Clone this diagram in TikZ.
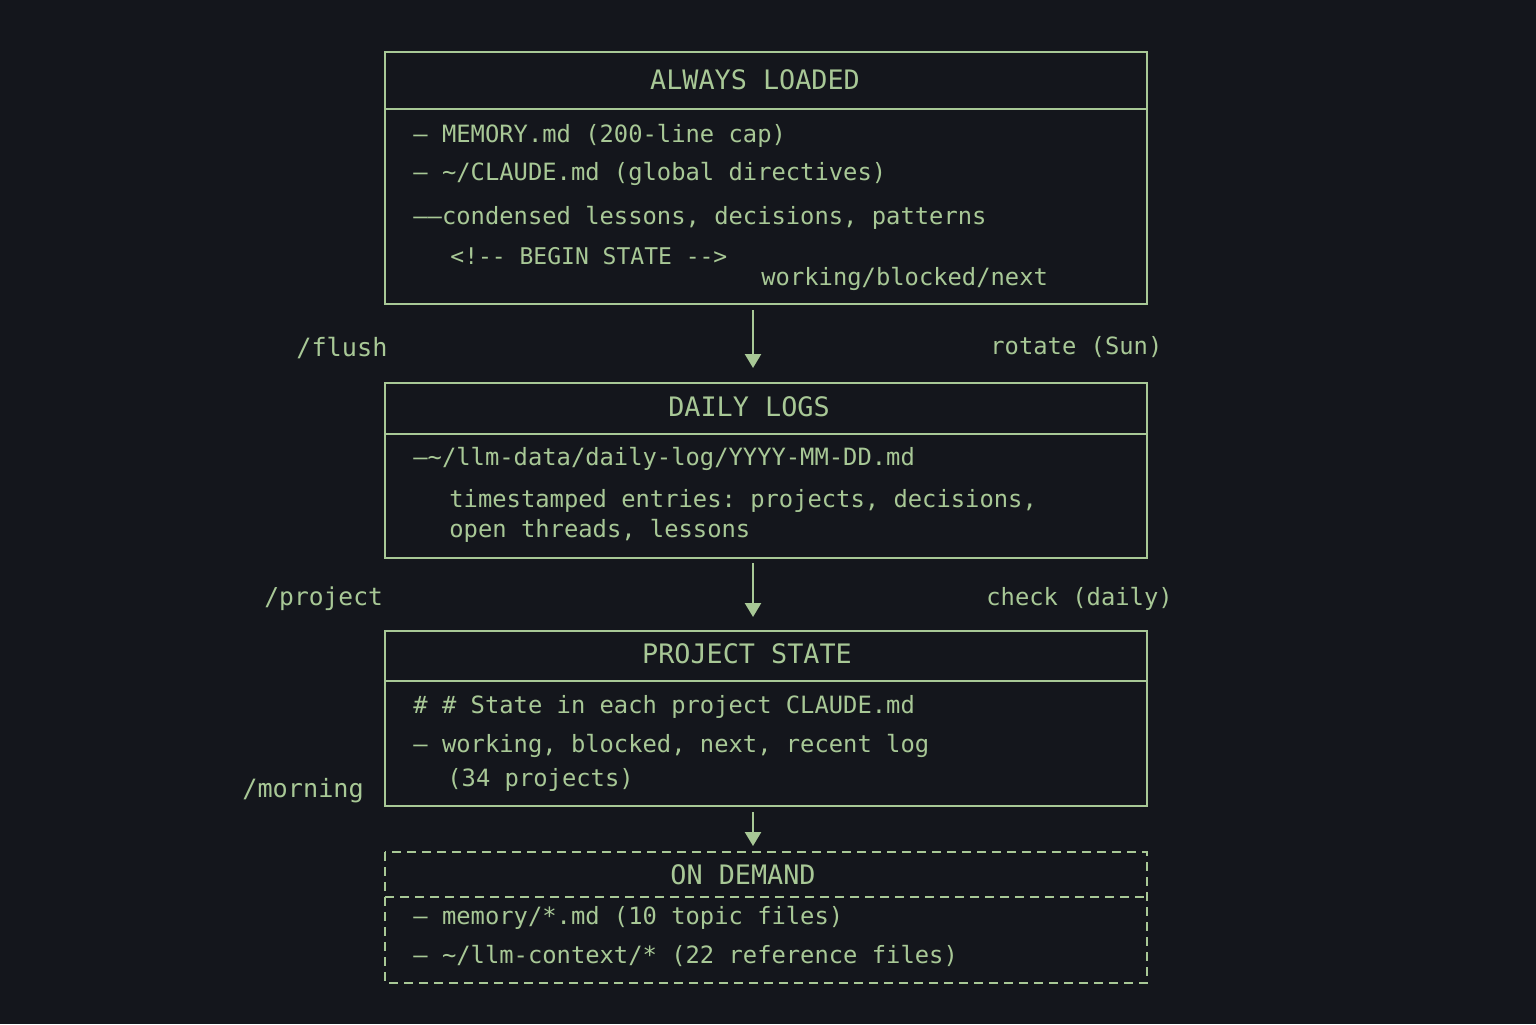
\documentclass[tikz,border=0pt]{standalone}
\usepackage{fontspec}
\setmonofont{DejaVu Sans Mono}
\usetikzlibrary{arrows.meta}
\definecolor{bg}{HTML}{14161C}
\definecolor{gr}{HTML}{A8C896}
\begin{document}
\begin{tikzpicture}[x=0.5pt,y=-0.5pt,
  box/.style={draw=gr,line width=1.2pt},
  dsh/.style={box,dash pattern=on 4.5pt off 3pt},
  txt/.style={anchor=west,text=gr,font=\ttfamily\fontsize{11.9}{15}\selectfont,inner sep=0},
  small/.style={txt,font=\ttfamily\fontsize{11.5}{14}\selectfont},
  hdr/.style={text=gr,font=\ttfamily\fontsize{13.4}{15}\selectfont,inner sep=0},
  arr/.style={draw=gr,line width=1.2pt,-{Triangle[length=7pt,width=8pt]}}]
\fill[bg] (0,0) rectangle (1536,1024);
% boxes
\draw[box] (385,52) rectangle (1147,304); \draw[box] (385,109) -- (1147,109);
\draw[box] (385,383) rectangle (1147,558); \draw[box] (385,434) -- (1147,434);
\draw[box] (385,631) rectangle (1147,806); \draw[box] (385,681) -- (1147,681);
\draw[dsh] (385,852) rectangle (1147,983); \draw[dsh] (385,897) -- (1147,897);
% headers
\node[hdr] (h1) at (755,80) {ALWAYS LOADED};
\node[hdr] (h2) at (749,407) {DAILY LOGS};
\node[hdr] (h3) at (747,654) {PROJECT STATE};
\node[hdr] (h4) at (743,875) {ON DEMAND};
% box 1
\node[txt] (a1) at (413,136) {– MEMORY.md (200-line cap)};
\node[txt] (a2) at (413,174) {– \textasciitilde/CLAUDE.md (global directives)};
\node[txt] (a3) at (413,218) {––condensed lessons, decisions, patterns};
\node[small] (a4) at (450,256) {<!-- BEGIN STATE -->};
\node[txt] (a5) at (761,279) {working/blocked/next};
% box 2
\node[txt] (b1) at (413,459) {–\textasciitilde/llm-data/daily-log/YYYY-MM-DD.md};
\node[txt] (b2) at (449,501) {timestamped entries: projects, decisions,};
\node[txt] (b3) at (449,531) {open threads, lessons};
% box 3
\node[txt] (c1) at (413,707) {\# \# State in each project CLAUDE.md};
\node[txt] (c2) at (413,746) {– working, blocked, next, recent log};
\node[txt] (c3) at (447,780) {(34 projects)};
% box 4
\node[txt] (d1) at (413,918) {– memory/*.md (10 topic files)};
\node[txt] (d2) at (413,956) {– \textasciitilde/llm-context/* (22 reference files)};
% side labels
\node[txt,font=\ttfamily\fontsize{12.6}{15}\selectfont] (l1) at (296,348) {/flush};
\node[txt] (r1) at (990,347) {rotate (Sun)};
\node[txt,font=\ttfamily\fontsize{12.3}{15}\selectfont] (l2) at (264,599) {/project};
\node[txt] (r2) at (986,599) {check (daily)};
\node[txt,font=\ttfamily\fontsize{12.6}{15}\selectfont] (l3) at (242,791) {/morning};
% arrows
\coordinate (s1) at (753,310); \coordinate (e1) at (753,368);
\coordinate (s2) at (753,563); \coordinate (e2) at (753,617);
\coordinate (s3) at (753,812); \coordinate (e3) at (753,846);
\draw[arr] (s1) -- (e1);
\draw[arr] (s2) -- (e2);
\draw[arr] (s3) -- (e3);
\end{tikzpicture}
\end{document}
